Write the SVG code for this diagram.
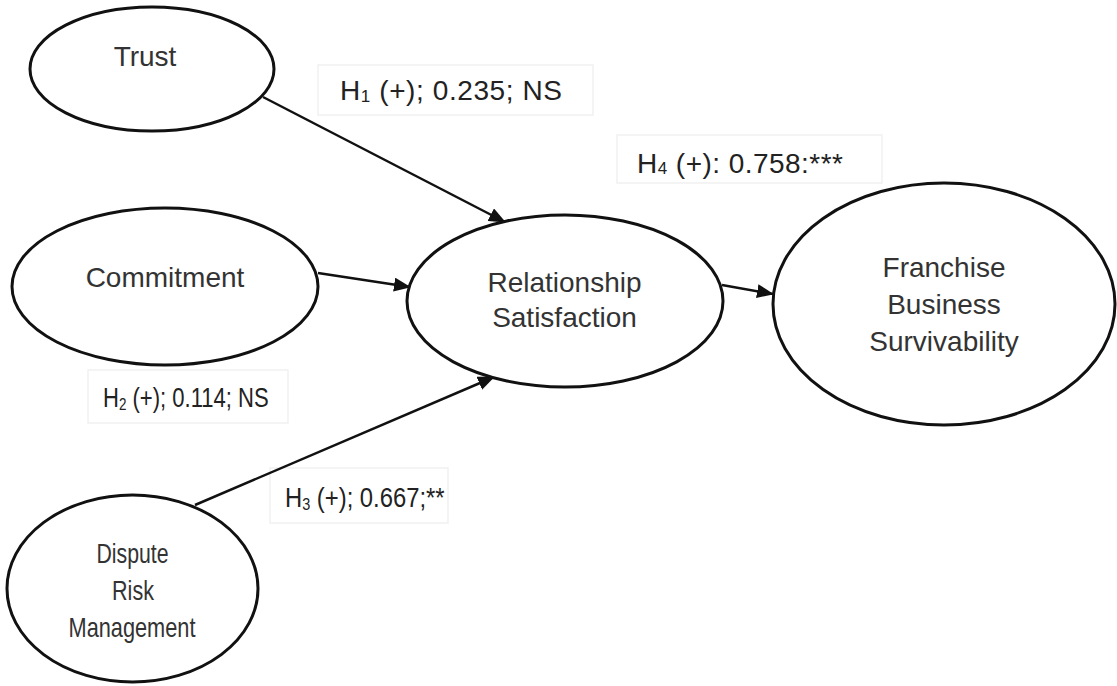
<svg xmlns="http://www.w3.org/2000/svg" width="1117" height="686" viewBox="0 0 1117 686">
  <style>
    .node { fill: #ffffff; stroke: #111111; stroke-width: 3; }
    .ntext { font-family: "Liberation Sans", Arial, sans-serif; font-size: 28px; fill: #333333; text-anchor: middle; }
    .lbox { fill: #ffffff; stroke: #f1f1f1; stroke-width: 1.5; }
    .ltext { font-family: "Liberation Sans", Arial, sans-serif; font-size: 28px; fill: #222222; }
    .sub { font-size: 17px; }
    .edge { stroke: #111111; stroke-width: 2.5; fill: none; marker-end: url(#arrow); }
  </style>
  <defs>
    <marker id="arrow" markerUnits="userSpaceOnUse" markerWidth="17" markerHeight="14" viewBox="0 0 17 14" refX="16" refY="7" orient="auto">
      <path d="M0,0 L17,7 L0,14 z" fill="#111111"/>
    </marker>
  </defs>
  <rect width="1117" height="686" fill="#ffffff"/>

  <!-- path coefficient labels -->
  <g id="label-h1">
    <rect class="lbox" x="318" y="65" width="275" height="50"/>
    <text class="ltext" x="340" y="100" textLength="222">H<tspan class="sub" dy="2">1</tspan><tspan dy="-2"> (+); 0.235; NS</tspan></text>
  </g>
  <g id="label-h4">
    <rect class="lbox" x="617" y="135" width="265" height="48"/>
    <text class="ltext" x="637" y="173" textLength="206">H<tspan class="sub" dy="1">4</tspan><tspan dy="-1"> (+): 0.758:***</tspan></text>
  </g>
  <g id="label-h2">
    <rect class="lbox" x="88" y="370" width="200" height="53"/>
    <text class="ltext" transform="translate(103,407) scale(0.788,1)">H<tspan class="sub" dy="3">2</tspan><tspan dy="-3"> (+); 0.114; NS</tspan></text>
  </g>
  <g id="label-h3">
    <rect class="lbox" x="270" y="468" width="178" height="55"/>
    <text class="ltext" transform="translate(285,507) scale(0.851,1)">H<tspan class="sub" dy="3">3</tspan><tspan dy="-3"> (+); 0.667;**</tspan></text>
  </g>

  <!-- connectors -->
  <g id="connectors">
    <line class="edge" x1="263" y1="97" x2="505" y2="222"/>
    <line class="edge" x1="318" y1="273" x2="410" y2="287"/>
    <line class="edge" x1="195" y1="505" x2="494" y2="377"/>
    <line class="edge" x1="722" y1="285" x2="773" y2="294"/>
  </g>

  <!-- constructs -->
  <g id="trust">
    <ellipse class="node" cx="152" cy="69" rx="122" ry="62"/>
    <text class="ntext" x="145" y="66">Trust</text>
  </g>
  <g id="commitment">
    <ellipse class="node" cx="165" cy="286.5" rx="153" ry="78.5"/>
    <text class="ntext" x="165" y="287">Commitment</text>
  </g>
  <g id="relationship-satisfaction">
    <ellipse class="node" cx="565" cy="301" rx="158" ry="86"/>
    <text class="ntext" x="564.5" y="292">Relationship</text>
    <text class="ntext" x="564.5" y="327">Satisfaction</text>
  </g>
  <g id="franchise-business-survivability">
    <ellipse class="node" cx="944" cy="304" rx="171" ry="121"/>
    <text class="ntext" x="944" y="277">Franchise</text>
    <text class="ntext" x="944" y="314">Business</text>
    <text class="ntext" x="944" y="351">Survivability</text>
  </g>
  <g id="dispute-risk-management">
    <ellipse class="node" cx="132.5" cy="588.5" rx="125.5" ry="93.5"/>
    <text class="ntext" transform="translate(132.5,563) scale(0.76,1)">Dispute</text>
    <text class="ntext" transform="translate(133,600) scale(0.77,1)">Risk</text>
    <text class="ntext" transform="translate(132,637) scale(0.777,1)">Management</text>
  </g>
</svg>
